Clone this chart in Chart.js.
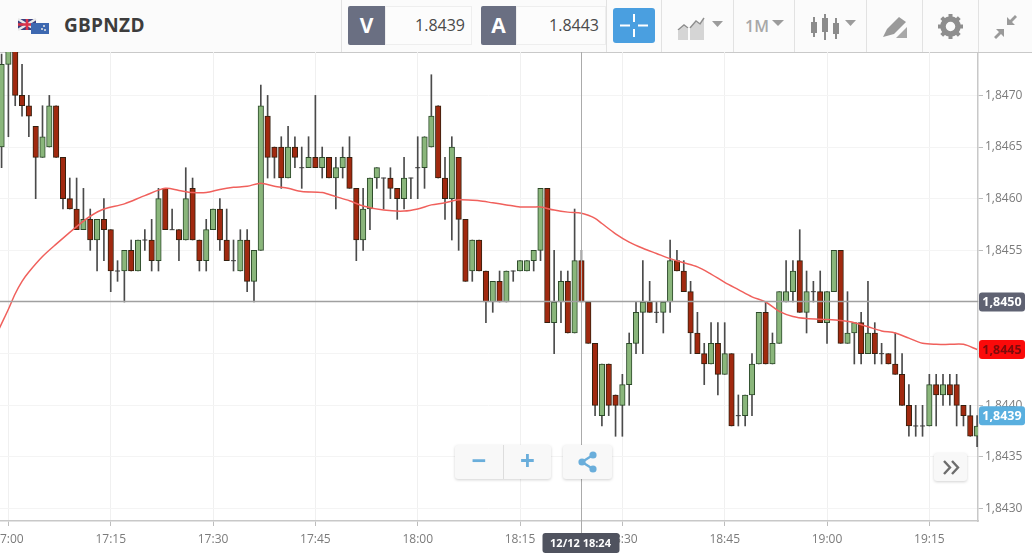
<!DOCTYPE html>
<html>
<head>
<meta charset="utf-8">
<title>GBPNZD</title>
<script src="https://cdn.jsdelivr.net/npm/chart.js@4/dist/chart.umd.min.js"></script>
<style>
  html, body { margin: 0; padding: 0; background: #fff; }
  body { width: 1032px; height: 553px; position: relative; overflow: hidden; font-family: "Open Sans", sans-serif; }
  .topbar { position: absolute; left: 0; top: 0; width: 1032px; height: 52px; background: #fbfbfb; border-bottom: 1px solid #c9c9c9; }
  .topbar div, .topbar svg { position: absolute; }
  .sep { top: 0; width: 1px; height: 52px; background: #e2e2e2; }
  .symbol { left: 64px; top: 12px; font-size: 19px; font-weight: 700; color: #3d3d3d; letter-spacing: 0.3px; }
  .tag { top: 6px; height: 39px; line-height: 39px; text-align: center; background: #6a6f82; color: #fff; font-size: 21px; font-weight: 700; border-radius: 2px 0 0 2px; }
  .price { top: 6px; height: 37px; line-height: 37px; text-align: right; background: #fcfcfc; border: 1px solid #eee; color: #4a4a4a; font-size: 16px; padding-right: 6px; box-sizing: content-box; }
  .cross { left: 613px; top: 8px; width: 42px; height: 35px; background: #4a9fe0; border-radius: 3px; }
  .period { left: 745px; top: 15px; font-size: 16px; font-weight: 600; color: #a8a8a8; }
  #wrap { position: absolute; left: 0; top: 52px; width: 1032px; height: 501px; }
  .btn { position: absolute; background: #f8f8f8; border-radius: 3px; box-shadow: 0 1px 3px rgba(0,0,0,0.18); color: #6aaedb; font-weight: 700; text-align: center; }
</style>
</head>
<body>
<div class="topbar">
  <svg style="left:18px;top:18px" width="31" height="17" viewBox="0 0 31 17">
    <rect x="0" y="1" width="18" height="11" fill="#39407f"/>
    <path d="M0 1L18 12M18 1L0 12" stroke="#e8e8e8" stroke-width="2.4"/>
    <path d="M9 1V12M0 6.5H18" stroke="#d9334a" stroke-width="2.6"/>
    <rect x="13" y="5" width="18" height="11" fill="#3d68b0"/>
    <circle cx="26" cy="8" r="1" fill="#e6e6e6"/><circle cx="24" cy="11" r="1" fill="#e6e6e6"/><circle cx="27" cy="12" r="1" fill="#e6e6e6"/>
  </svg>
  <div class="symbol">GBPNZD</div>
  <div class="sep" style="left:341px"></div>
  <div class="tag" style="left:348px;width:37px">V</div>
  <div class="price" style="left:385px;width:79px">1.8439</div>
  <div class="tag" style="left:481px;width:35px">A</div>
  <div class="price" style="left:516px;width:82px">1.8443</div>
  <div class="sep" style="left:606px"></div>
  <div class="cross">
    <svg style="left:7px;top:5px" width="28" height="25" viewBox="0 0 28 25"><path d="M0 12.5H10M18 12.5H28M14 1V9M14 16V24" stroke="#fff" stroke-width="2"/></svg>
  </div>
  <div class="sep" style="left:661px"></div>
  <svg style="left:676px;top:15px" width="50" height="26" viewBox="0 0 50 26">
    <path d="M2 16L8 11L12 14V25H2Z" fill="#d5d5d5"/><path d="M14 14L20 7L24 10L28 4V25H14Z" fill="#d5d5d5"/>
    <path d="M2 15L8 10L12 13M14 13L20 6L24 9L28 3" stroke="#8e8e8e" stroke-width="1.5" fill="none"/>
    <path d="M36 6H47L41.5 12Z" fill="#9c9c9c"/>
  </svg>
  <div class="sep" style="left:733px"></div>
  <div class="period">1M</div>
  <svg style="left:771px;top:19px" width="14" height="8"><path d="M1 1H13L7 7Z" fill="#9c9c9c"/></svg>
  <div class="sep" style="left:794px"></div>
  <svg style="left:810px;top:13px" width="48" height="28" viewBox="0 0 48 28">
    <path d="M4 4V24M15 1V27M26 5V26" stroke="#8c8c8c" stroke-width="2"/>
    <rect x="1" y="9" width="6" height="11" fill="#8c8c8c"/><rect x="12" y="5" width="6" height="14" fill="#8c8c8c"/><rect x="23" y="10" width="6" height="11" fill="#8c8c8c"/>
    <path d="M35 7H46L40.5 13Z" fill="#9c9c9c"/>
  </svg>
  <div class="sep" style="left:866px"></div>
  <svg style="left:882px;top:15px" width="26" height="24" viewBox="0 0 26 24">
    <path d="M1 22L5 14L17 2L24 7L12 19Z" fill="#9a9a9a"/><path d="M14 23L25 12V23Z" fill="#a8a8a8"/>
  </svg>
  <div class="sep" style="left:922px"></div>
  <svg style="left:937px;top:13px" width="27" height="27" viewBox="0 0 27 27">
    <circle cx="13.5" cy="13.5" r="7.5" fill="none" stroke="#8e8e8e" stroke-width="5.5"/>
    <path d="M13.5 1V6M13.5 21V26M1 13.5H6M21 13.5H26M4.7 4.7L8 8M19 19L22.3 22.3M4.7 22.3L8 19M19 8L22.3 4.7" stroke="#8e8e8e" stroke-width="4"/>
  </svg>
  <div class="sep" style="left:978px"></div>
  <svg style="left:993px;top:15px" width="25" height="24" viewBox="0 0 25 24">
    <path d="M14 10V2L17 5L22 0L24 2L19 7L22 10ZM11 14V22L8 19L3 24L1 22L6 17L3 14Z" fill="#9a9a9a"/>
  </svg>
</div>

<div id="wrap"><canvas id="myChart" width="1032" height="501"></canvas></div>

<div class="btn" style="left:455px;top:445px;width:96px;height:34px;">
  <span style="position:absolute;left:0;top:0;width:48px;height:34px;line-height:30px;font-size:26px;border-right:1px solid #ddd;">−</span>
  <span style="position:absolute;left:49px;top:0;width:47px;height:34px;line-height:30px;font-size:26px;">+</span>
</div>
<div class="btn" style="left:563px;top:445px;width:49px;height:34px;">
  <svg style="position:absolute;left:14px;top:6px" width="22" height="22" viewBox="0 0 22 22">
    <path d="M16 4L5 11L16 18" stroke="#6aaedb" stroke-width="2.4" fill="none"/>
    <circle cx="16" cy="4" r="3.6" fill="#6aaedb"/><circle cx="5" cy="11" r="3.6" fill="#6aaedb"/><circle cx="16" cy="18" r="3.6" fill="#6aaedb"/>
  </svg>
</div>
<div class="btn" style="left:934px;top:453px;width:33px;height:28px;">
  <svg style="position:absolute;left:8px;top:7px" width="18" height="15" viewBox="0 0 18 15">
    <path d="M2 1L8 7.5L2 14M10 1L16 7.5L10 14" stroke="#6d6d6d" stroke-width="2.4" fill="none"/>
  </svg>
</div>

<script>
const times = [
  "16:59","17:00","17:01","17:02","17:03","17:04","17:05","17:06","17:07","17:08","17:09","17:10","17:11","17:12","17:13","17:14",
  "17:15","17:16","17:17","17:18","17:19","17:20","17:21","17:22","17:23","17:24","17:25","17:26","17:27","17:28","17:29",
  "17:30","17:31","17:32","17:33","17:34","17:35","17:36","17:37","17:38","17:39","17:40","17:41","17:42","17:43","17:44",
  "17:45","17:46","17:47","17:48","17:49","17:50","17:51","17:52","17:53","17:54","17:55","17:56","17:57","17:58","17:59",
  "18:00","18:01","18:02","18:03","18:04","18:05","18:06","18:07","18:08","18:09","18:10","18:11","18:12","18:13","18:14",
  "18:15","18:16","18:17","18:18","18:19","18:20","18:21","18:22","18:23","18:24","18:25","18:26","18:27","18:28","18:29",
  "18:30","18:31","18:32","18:33","18:34","18:35","18:36","18:37","18:38","18:39","18:40","18:41","18:42","18:43","18:44",
  "18:45","18:46","18:47","18:48","18:49","18:50","18:51","18:52","18:53","18:54","18:55","18:56","18:57","18:58","18:59",
  "19:00","19:01","19:02","19:03","19:04","19:05","19:06","19:07","19:08","19:09","19:10","19:11","19:12","19:13","19:14",
  "19:15","19:16","19:17","19:18","19:19","19:20","19:21","19:22"
];
const opens = [
  1.8465,1.8473,1.8475,1.8470,1.8469,1.8467,1.8464,1.8465,1.8469,1.8464,
  1.8460,1.8459,1.8457,1.8458,1.8456,1.8458,1.8457,1.8453,1.8453,1.8455,
  1.8453,1.8456,1.8456,1.8454,1.8461,1.8457,1.8457,1.8456,1.8461,1.8456,
  1.8454,1.8457,1.8459,1.8456,1.8454,1.8453,1.8456,1.8452,1.8455,1.8468,
  1.8465,1.8465,1.8462,1.8465,1.8463,1.8463,1.8464,1.8463,1.8464,1.8462,
  1.8463,1.8464,1.8461,1.8456,1.8459,1.8462,1.8462,1.8462,1.8461,1.8460,
  1.8462,1.8463,1.8463,1.8465,1.8469,1.8462,1.8460,1.8464,1.8458,1.8453,
  1.8456,1.8453,1.8450,1.8452,1.8450,1.8453,1.8453,1.8453,1.8454,1.8455,
  1.8461,1.8448,1.8450,1.8452,1.8447,1.8454,1.8450,1.8446,1.8439,1.8444,
  1.8441,1.8440,1.8442,1.8446,1.8449,1.8450,1.8449,1.8449,1.8450,1.8454,
  1.8453,1.8451,1.8447,1.8445,1.8444,1.8446,1.8443,1.8445,1.8439,1.8439,
  1.8441,1.8444,1.8449,1.8444,1.8446,1.8450,1.8451,1.8454,1.8449,1.8451,
  1.8451,1.8448,1.8451,1.8455,1.8446,1.8447,1.8448,1.8445,1.8447,1.8445,
  1.8445,1.8444,1.8443,1.8440,1.8438,1.8438,1.8438,1.8442,1.8441,1.8442,
  1.8442,1.8440,1.8439,1.8437
];
const closes = [
  1.8473,1.8476,1.8470,1.8469,1.8468,1.8464,1.8466,1.8469,1.8464,1.8460,
  1.8459,1.8457,1.8458,1.8456,1.8458,1.8457,1.8453,1.8453,1.8455,1.8453,
  1.8456,1.8456,1.8454,1.8460,1.8457,1.8457,1.8456,1.8460,1.8456,1.8454,
  1.8457,1.8459,1.8456,1.8454,1.8454,1.8456,1.8452,1.8455,1.8469,1.8464,
  1.8464,1.8462,1.8465,1.8464,1.8463,1.8464,1.8463,1.8464,1.8462,1.8463,
  1.8464,1.8461,1.8456,1.8459,1.8462,1.8463,1.8462,1.8461,1.8460,1.8462,
  1.8462,1.8463,1.8466,1.8468,1.8462,1.8460,1.8465,1.8458,1.8452,1.8456,
  1.8453,1.8450,1.8452,1.8450,1.8453,1.8453,1.8454,1.8454,1.8455,1.8461,
  1.8448,1.8450,1.8452,1.8447,1.8454,1.8450,1.8446,1.8440,1.8444,1.8440,
  1.8440,1.8442,1.8446,1.8449,1.8450,1.8449,1.8449,1.8450,1.8454,1.8453,
  1.8451,1.8447,1.8445,1.8444,1.8446,1.8443,1.8445,1.8438,1.8439,1.8441,
  1.8444,1.8449,1.8444,1.8446,1.8451,1.8451,1.8453,1.8449,1.8451,1.8451,
  1.8448,1.8451,1.8455,1.8446,1.8447,1.8448,1.8445,1.8447,1.8445,1.8445,
  1.8444,1.8443,1.8440,1.8438,1.8438,1.8438,1.8442,1.8441,1.8442,1.8441,
  1.8440,1.8439,1.8437,1.8438
];
const highs = [
  1.8474,1.8476,1.8475,1.8473,1.8470,1.8467,1.8469,1.8470,1.8469,1.8464,
  1.8462,1.8462,1.8461,1.8459,1.8458,1.8460,1.8457,1.8454,1.8455,1.8456,
  1.8456,1.8457,1.8458,1.8461,1.8461,1.8459,1.8457,1.8463,1.8462,1.8456,
  1.8458,1.8459,1.8460,1.8459,1.8456,1.8457,1.8457,1.8455,1.8471,1.8470,
  1.8465,1.8466,1.8467,1.8466,1.8465,1.8466,1.8470,1.8465,1.8464,1.8464,
  1.8465,1.8466,1.8461,1.8461,1.8462,1.8463,1.8462,1.8463,1.8461,1.8464,
  1.8462,1.8466,1.8466,1.8472,1.8469,1.8464,1.8466,1.8464,1.8458,1.8456,
  1.8456,1.8453,1.8452,1.8453,1.8453,1.8453,1.8454,1.8454,1.8455,1.8461,
  1.8461,1.8455,1.8453,1.8453,1.8459,1.8455,1.8450,1.8446,1.8444,1.8444,
  1.8441,1.8443,1.8447,1.8450,1.8454,1.8452,1.8450,1.8450,1.8456,1.8455,
  1.8454,1.8452,1.8449,1.8446,1.8448,1.8448,1.8448,1.8445,1.8441,1.8441,
  1.8445,1.8449,1.8450,1.8447,1.8451,1.8454,1.8454,1.8457,1.8453,1.8452,
  1.8453,1.8451,1.8455,1.8455,1.8451,1.8448,1.8449,1.8452,1.8448,1.8446,
  1.8445,1.8447,1.8445,1.8442,1.8440,1.8440,1.8443,1.8443,1.8443,1.8443,
  1.8443,1.8440,1.8440,1.8439
];
const lows = [
  1.8463,1.8466,1.8469,1.8468,1.8466,1.8460,1.8464,1.8465,1.8464,1.8459,
  1.8459,1.8457,1.8457,1.8455,1.8453,1.8454,1.8451,1.8452,1.8450,1.8453,
  1.8453,1.8455,1.8453,1.8453,1.8457,1.8457,1.8454,1.8456,1.8456,1.8453,
  1.8453,1.8457,1.8455,1.8454,1.8453,1.8453,1.8451,1.8450,1.8455,1.8462,
  1.8462,1.8461,1.8462,1.8463,1.8461,1.8463,1.8463,1.8462,1.8462,1.8459,
  1.8462,1.8461,1.8454,1.8455,1.8457,1.8461,1.8459,1.8460,1.8458,1.8459,
  1.8460,1.8460,1.8461,1.8465,1.8462,1.8458,1.8456,1.8455,1.8452,1.8452,
  1.8453,1.8448,1.8449,1.8450,1.8450,1.8452,1.8453,1.8453,1.8453,1.8454,
  1.8448,1.8445,1.8448,1.8447,1.8447,1.8450,1.8446,1.8439,1.8438,1.8439,
  1.8437,1.8437,1.8440,1.8445,1.8445,1.8449,1.8448,1.8447,1.8449,1.8453,
  1.8451,1.8445,1.8445,1.8442,1.8444,1.8441,1.8443,1.8438,1.8438,1.8438,
  1.8439,1.8444,1.8444,1.8444,1.8446,1.8450,1.8450,1.8449,1.8447,1.8450,
  1.8448,1.8446,1.8451,1.8446,1.8446,1.8444,1.8444,1.8445,1.8444,1.8444,
  1.8444,1.8443,1.8440,1.8437,1.8437,1.8437,1.8438,1.8438,1.8440,1.8440,
  1.8438,1.8438,1.8437,1.8436
];
const maTimes = [
  "16:58","16:59","17:00","17:01","17:02","17:03","17:05","17:07","17:10","17:12","17:14","17:17","17:20","17:23","17:25","17:27","17:29",
  "17:31","17:33","17:35","17:37","17:39","17:41","17:43","17:46","17:48","17:50","17:52","17:55","17:58","18:00","18:02","18:04",
  "18:06","18:09","18:11","18:13","18:15","18:17","18:18","18:20","18:22","18:24","18:25","18:26","18:27","18:29","18:31","18:33","18:35",
  "18:37","18:39","18:41","18:43","18:45","18:47","18:49","18:51","18:53","18:55","18:57","19:00","19:02","19:04","19:06","19:08",
  "19:10","19:12","19:14","19:16","19:18","19:20","19:22"
];
const maValues = [
  1.84465,1.84479,1.84493,1.84508,1.84520,1.84529,1.84544,1.84556,1.84573,1.84583,1.84590,1.84595,1.84603,1.84610,1.84608,1.84606,1.84606,
  1.84609,1.84611,1.84612,1.84615,1.84612,1.84610,1.84607,1.84606,1.84602,1.84598,1.84593,1.84589,1.84588,1.84590,1.84594,1.84596,
  1.84599,1.84598,1.84596,1.84594,1.84592,1.84592,1.84592,1.84589,1.84587,1.84586,1.84584,1.84581,1.84576,1.84566,1.84558,1.84552,1.84547,
  1.84542,1.84538,1.84534,1.84527,1.84519,1.84512,1.84505,1.84500,1.84491,1.84486,1.84484,1.84483,1.84482,1.84480,1.84476,1.84472,
  1.84470,1.84465,1.84460,1.84459,1.84459,1.84459,1.84454
];
const crossTime = "18:24";
const crossDate = "12/12 18:24";
const crossPrice = 1.8450;
const lastPrice = 1.8439;
const maLast = 1.84454;

function toMinutes(t) {
  const p = t.split(":");
  return parseInt(p[0]) * 60 + parseInt(p[1]);
}
function fromMinutes(m) {
  const h = Math.floor(m / 60);
  const mm = m % 60;
  return h + ":" + (mm < 10 ? "0" + mm : mm);
}
function comma(v) {
  return v.toFixed(4).replace(".", ",");
}

const minutes = times.map(toMinutes);
const isUp = closes.map((c, i) => c >= opens[i]);
const bodies = minutes.map((m, i) => ({ x: m, y: [opens[i], closes[i]] }));
const wicks = minutes.map((m, i) => ({ x: m, y: [lows[i], highs[i]] }));
const dojis = minutes.map((m, i) => ({ x: m, y: closes[i] })).filter((p, i) => opens[i] === closes[i]);
const maLine = maTimes.map((t, i) => ({ x: toMinutes(t), y: maValues[i] }));

// crosshair and the price tags on the right
const overlays = {
  id: "overlays",
  afterDatasetsDraw(chart) {
    const ctx = chart.ctx;
    const area = chart.chartArea;
    const xs = chart.scales.x;
    const ys = chart.scales.y;

    ctx.save();
    ctx.strokeStyle = "#ababab";
    ctx.lineWidth = 1;
    const cx = Math.round(xs.getPixelForValue(toMinutes(crossTime))) + 0.5;
    const cy = Math.round(ys.getPixelForValue(crossPrice)) - 0.5;
    ctx.beginPath();
    ctx.moveTo(cx, area.top);
    ctx.lineTo(cx, area.bottom + 14);
    ctx.stroke();
    ctx.strokeStyle = "#a0a0a0";
    ctx.lineWidth = 1.5;
    ctx.beginPath();
    ctx.moveTo(area.left, cy);
    ctx.lineTo(area.right, cy);
    ctx.stroke();

    function priceTag(value, text, bg, fg) {
      const y = ys.getPixelForValue(value);
      ctx.fillStyle = bg;
      ctx.beginPath();
      ctx.roundRect(area.right + 1, y - 9.5, 46, 19, 3);
      ctx.fill();
      ctx.fillStyle = fg;
      ctx.font = "700 12.5px 'Open Sans'";
      ctx.textAlign = "center";
      ctx.textBaseline = "middle";
      ctx.fillText(text, area.right + 24, y + 0.5);
    }
    priceTag(crossPrice, comma(crossPrice), "#5f6272", "#fff");
    priceTag(maLast, comma(maLast), "#fb0a0a", "#7d0b0b");
    priceTag(lastPrice, comma(lastPrice), "#59afdf", "#fff");

    ctx.fillStyle = "#50535f";
    ctx.beginPath();
    ctx.roundRect(cx - 39, area.bottom + 12, 77, 20, 3);
    ctx.fill();
    ctx.fillStyle = "#fff";
    ctx.font = "700 11px 'Open Sans'";
    ctx.textAlign = "center";
    ctx.textBaseline = "middle";
    ctx.fillText(crossDate, cx - 1, area.bottom + 22.5);
    ctx.restore();
  }
};

new Chart(document.getElementById("myChart"), {
  type: "bar",
  data: {
    datasets: [
      {
        type: "line",
        data: maLine,
        borderColor: "#f0605c",
        borderWidth: 1.5,
        pointRadius: 0,
        tension: 0.3,
        order: 0
      },
      {
        type: "line",
        data: dojis,
        showLine: false,
        pointStyle: "line",
        pointRadius: 2.5,
        pointBorderColor: "#3c3c3c",
        pointBorderWidth: 1,
        order: 1
      },
      {
        data: bodies,
        backgroundColor: isUp.map((u) => (u ? "#8ab67b" : "#a1290f")),
        borderColor: isUp.map((u) => (u ? "#2c4a2a" : "#34200f")),
        borderWidth: 1,
        borderSkipped: false,
        barThickness: 5.5,
        grouped: false,
        order: 2
      },
      {
        data: wicks,
        backgroundColor: "#4b4b4b",
        borderWidth: 0,
        barThickness: 1,
        grouped: false,
        order: 3
      }
    ]
  },
  options: {
    responsive: false,
    animation: false,
    layout: { padding: 0, autoPadding: false },
    plugins: { legend: { display: false }, tooltip: { enabled: false } },
    scales: {
      x: {
        type: "linear",
        offset: false,
        min: 1018.77,
        max: 1162.13,
        afterFit(scale) {
          scale.height = 32;
          scale.paddingLeft = 0;
          scale.paddingRight = 0;
        },
        grid: { offset: false, color: "#f0f0f0", tickColor: "#bdbdbd", tickLength: 5 },
        border: { color: "#c8c8c8", width: 1.5 },
        ticks: {
          stepSize: 15,
          includeBounds: false,
          autoSkip: false,
          maxRotation: 0,
          minRotation: 0,
          padding: 6,
          color: "#7b7b7b",
          font: { family: "Open Sans", size: 12 },
          callback: (v) => fromMinutes(v)
        }
      },
      y: {
        position: "right",
        min: 1.84288,
        max: 1.84742,
        afterFit(scale) {
          scale.width = 54;
          scale.paddingTop = 0;
          scale.paddingBottom = 0;
        },
        grid: { color: "#f4f4f4", tickColor: "#bdbdbd", tickLength: 5 },
        border: { color: "#c8c8c8", width: 1.5 },
        ticks: {
          stepSize: 0.0005,
          includeBounds: false,
          padding: 2,
          color: "#7b7b7b",
          font: { family: "Open Sans", size: 12 },
          callback: (v) => comma(v)
        }
      }
    }
  },
  plugins: [overlays]
});
</script>
</body>
</html>
